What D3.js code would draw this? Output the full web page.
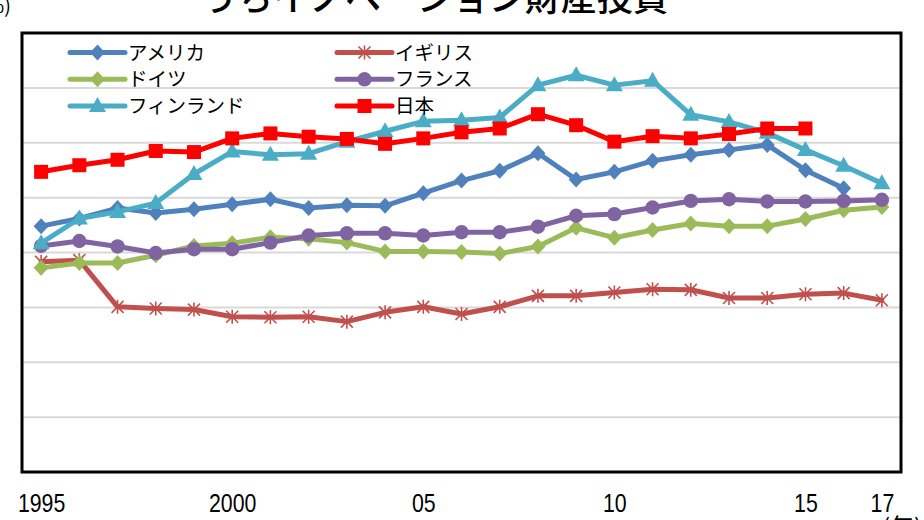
<!DOCTYPE html>
<html>
<head>
<meta charset="utf-8">
<script src="https://cdn.jsdelivr.net/npm/d3@7"></script>
<style>
  body { margin: 0; background: #fff; }
  svg { display: block; }
</style>
</head>
<body>
<svg id="chart" width="924" height="520"></svg>
<script>
// Categories: years on the x axis
const years = [1995, 1996, 1997, 1998, 1999, 2000, 2001, 2002, 2003, 2004, 2005, 2006,
               2007, 2008, 2009, 2010, 2011, 2012, 2013, 2014, 2015, 2016, 2017];

// Labels shown under the x axis
const xTickYears  = [1995, 2000, 2005, 2010, 2015, 2017];
const xTickLabels = ["1995", "2000", "05", "10", "15", "17"];

// Gridline values on the y axis (%)
const yTicks = [0, 1, 2, 3, 4, 5, 6, 7, 8];

// Series values (% of GDP), starting in 1995
const usa     = [4.48, 4.62, 4.81, 4.72, 4.79, 4.88, 4.97, 4.81, 4.86, 4.85, 5.08, 5.31,
                 5.49, 5.81, 5.33, 5.47, 5.67, 5.78, 5.87, 5.96, 5.50, 5.17];
const uk      = [3.83, 3.86, 3.01, 2.98, 2.96, 2.83, 2.82, 2.83, 2.74, 2.91, 3.01, 2.88,
                 3.01, 3.21, 3.21, 3.27, 3.33, 3.32, 3.17, 3.17, 3.24, 3.26, 3.13];
const germany = [3.72, 3.81, 3.81, 3.95, 4.12, 4.17, 4.28, 4.25, 4.18, 4.02, 4.02, 4.01,
                 3.98, 4.11, 4.45, 4.27, 4.41, 4.53, 4.48, 4.48, 4.61, 4.77, 4.83];
const france  = [4.12, 4.21, 4.11, 3.99, 4.06, 4.06, 4.18, 4.31, 4.35, 4.35, 4.31, 4.37,
                 4.37, 4.47, 4.67, 4.70, 4.82, 4.94, 4.97, 4.93, 4.93, 4.94, 4.96];
const finland = [4.17, 4.62, 4.74, 4.90, 5.43, 5.84, 5.78, 5.80, 6.02, 6.21, 6.39, 6.41,
                 6.46, 7.05, 7.23, 7.05, 7.13, 6.51, 6.38, 6.18, 5.87, 5.58, 5.26];
const japan   = [5.47, 5.59, 5.69, 5.85, 5.83, 6.08, 6.17, 6.11, 6.07, 5.98, 6.08, 6.19,
                 6.26, 6.52, 6.32, 6.02, 6.12, 6.08, 6.16, 6.26, 6.26];

const seriesNames = ["アメリカ", "イギリス", "ドイツ", "フランス", "フィンランド", "日本"];

const series = [
  { name: seriesNames[0], values: usa,     color: "#4F81BD", marker: "diamond" },
  { name: seriesNames[1], values: uk,      color: "#C0504D", marker: "star" },
  { name: seriesNames[2], values: germany, color: "#9BBB59", marker: "diamond" },
  { name: seriesNames[3], values: france,  color: "#8064A2", marker: "circle" },
  { name: seriesNames[4], values: finland, color: "#4BACC6", marker: "triangle" },
  { name: seriesNames[5], values: japan,   color: "#FF0000", marker: "square" }
];

const svg = d3.select("#chart");
const plot = { left: 22, right: 901, top: 33, bottom: 472 };

const x = d3.scalePoint().domain(years).range([plot.left, plot.right]).padding(0.5);
const y = d3.scaleLinear().domain([0, 8]).range([plot.bottom, plot.top]);

// Title (runs past the top edge of the page)
svg.append("text")
  .attr("x", 435).attr("y", 11)
  .attr("text-anchor", "middle")
  .attr("font-family", "'Noto Sans CJK JP', sans-serif")
  .attr("font-size", 36)
  .attr("font-weight", 500)
  .attr("fill", "#000")
  .text("うちイノベーション財産投資");

// Unit label at the top left
svg.append("text")
  .attr("x", 11).attr("y", 13)
  .attr("text-anchor", "end")
  .attr("font-family", "'Noto Sans CJK JP', sans-serif")
  .attr("font-size", 20)
  .attr("fill", "#000")
  .text("(%)");

// Horizontal gridlines
svg.append("g")
  .selectAll("line")
  .data(yTicks.slice(1, -1))
  .join("line")
  .attr("x1", plot.left).attr("x2", plot.right)
  .attr("y1", d => y(d)).attr("y2", d => y(d))
  .attr("stroke", "#d9d9d9")
  .attr("stroke-width", 2);

// x axis labels
const xAxis = d3.axisBottom(x)
  .tickValues(xTickYears)
  .tickFormat(d => xTickLabels[xTickYears.indexOf(d)])
  .tickSize(0);

const gx = svg.append("g")
  .attr("transform", `translate(0,${plot.bottom})`)
  .call(xAxis);
gx.select(".domain").remove();
gx.selectAll(".tick text")
  .attr("font-family", "'Liberation Sans', Arial, sans-serif")
  .attr("font-size", 26)
  .attr("fill", "#000")
  .attr("dy", 0)
  .attr("y", 40)
  .attr("x", 0)
  .attr("transform", "scale(0.82,1)");

// Unit under the x axis (runs past the bottom edge)
svg.append("text")
  .attr("x", 882).attr("y", 536)
  .attr("font-family", "'Noto Sans CJK JP', sans-serif")
  .attr("font-size", 24)
  .attr("fill", "#000")
  .text("(年)");

// Marker shapes
function drawMarker(g, type, color) {
  if (type === "diamond") {
    g.append("path").attr("d", "M0,-8L7.5,0L0,8L-7.5,0Z").attr("fill", color);
  } else if (type === "square") {
    g.append("rect").attr("x", -7).attr("y", -7).attr("width", 14).attr("height", 14).attr("fill", color);
  } else if (type === "circle") {
    g.append("circle").attr("r", 7.2).attr("fill", color);
  } else if (type === "triangle") {
    g.append("path").attr("d", "M0,-9L8.5,6L-8.5,6Z").attr("fill", color);
  } else if (type === "star") {
    g.append("path").attr("d", "M0,-7V7M-6,-6L6,6M-6,6L6,-6")
      .attr("stroke", color).attr("stroke-width", 1.6).attr("fill", "none");
  }
}

const line = d3.line()
  .x((d, i) => x(years[i]))
  .y(d => y(d));

// Lines and markers, drawn series by series
series.forEach(s => {
  const g = svg.append("g");
  g.append("path")
    .attr("d", line(s.values))
    .attr("fill", "none")
    .attr("stroke", s.color)
    .attr("stroke-width", 5)
    .attr("stroke-linejoin", "round")
    .attr("stroke-linecap", "round");
  s.values.forEach((v, i) => {
    const m = g.append("g").attr("transform", `translate(${x(years[i])},${y(v)})`);
    drawMarker(m, s.marker, s.color);
  });
});

// Legend: two columns, three rows
const legendCols = [70, 337];
const legendRows = [52.5, 79.3, 106];
series.forEach((s, i) => {
  const lx = legendCols[i % 2];
  const ly = legendRows[Math.floor(i / 2)];
  const g = svg.append("g").attr("transform", `translate(${lx},${ly})`);
  g.append("line")
    .attr("x1", 0).attr("x2", 55).attr("y1", 0).attr("y2", 0)
    .attr("stroke", s.color).attr("stroke-width", 5).attr("stroke-linecap", "round");
  const m = g.append("g").attr("transform", "translate(27.5,0)");
  drawMarker(m, s.marker, s.color);
  g.append("text")
    .attr("x", 58).attr("y", 7)
    .attr("font-family", "'Noto Sans CJK JP', sans-serif")
    .attr("font-size", 19.5)
    .attr("fill", "#000")
    .text(s.name);
});

// Plot frame
svg.append("rect")
  .attr("x", plot.left).attr("y", plot.top)
  .attr("width", plot.right - plot.left).attr("height", plot.bottom - plot.top)
  .attr("fill", "none")
  .attr("stroke", "#000")
  .attr("stroke-width", 3);
</script>
</body>
</html>
